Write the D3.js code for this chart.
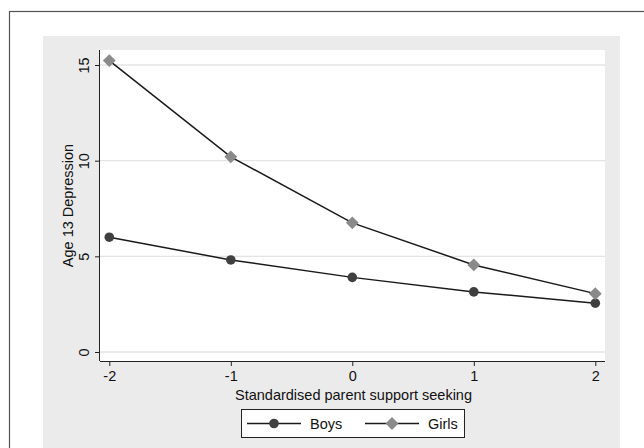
<!DOCTYPE html>
<html><head><meta charset="utf-8">
<script src="https://cdn.jsdelivr.net/npm/d3@7"></script>
<style>body{margin:0;background:#fff}svg{display:block}text{font-family:"Liberation Sans",Arial,sans-serif;fill:#111}</style>
</head><body><svg id="c" width="644" height="448"></svg>
<script>
const xValues = [-2, -1, 0, 1, 2];
const boys = [6.0, 4.81, 3.9, 3.14, 2.55];
const girls = [15.23, 10.2, 6.75, 4.55, 3.05];
const xTicks = [-2, -1, 0, 1, 2];
const yTicks = [0, 5, 10, 15];
const seriesNames = ["Boys", "Girls"];

const FS = 14.5;
const svg = d3.select("#c");
svg.append("rect").attr("x",0).attr("y",0).attr("width",644).attr("height",448).attr("fill","#fff");
svg.append("rect").attr("x",9.5).attr("y",11.5).attr("width",700).attr("height",500).attr("fill","#fff").attr("stroke","#555").attr("stroke-width",1.2);
svg.append("rect").attr("x",43).attr("y",36).attr("width",577).attr("height",420).attr("fill","#ebebeb");

const L=100, R=605, T=50, B=361;
const x = d3.scaleLinear().domain([-2,2]).range([109.3,595.3]);
const y = d3.scaleLinear().domain([0,15]).range([352,65]);

svg.append("rect").attr("x",L).attr("y",T).attr("width",R-L).attr("height",B-T).attr("fill","#fff");
svg.append("g").selectAll("line").data(yTicks).join("line")
  .attr("x1",L).attr("x2",R).attr("y1",d=>y(d)).attr("y2",d=>y(d))
  .attr("stroke","#e4e4e4").attr("stroke-width",1.3);

const xAxis = d3.axisBottom(x).tickValues(xTicks).tickSize(5).tickPadding(5).tickFormat(d3.format("d"));
const gx = svg.append("g").attr("transform",`translate(0,${B})`).call(xAxis);
gx.select(".domain").attr("d",`M${L},0.5H${R}`).attr("stroke","#222");
gx.selectAll(".tick line").attr("stroke","#222");
gx.selectAll("text").attr("font-size",FS).attr("fill","#111").attr("font-family","Liberation Sans, Arial, sans-serif").text(d=>d<0?"-"+Math.abs(d):d);

const yAxis = d3.axisLeft(y).tickValues(yTicks).tickSize(5).tickPadding(3);
const gy = svg.append("g").attr("transform",`translate(${L},0)`).call(yAxis);
gy.select(".domain").attr("d",`M-0.5,${T}V${B}`).attr("stroke","#222");
gy.selectAll(".tick line").attr("stroke","#222");
gy.selectAll("text").attr("font-size",FS).attr("fill","#111").attr("font-family","Liberation Sans, Arial, sans-serif")
  .attr("x",0).attr("dy",0).attr("text-anchor","middle")
  .attr("transform","translate(-15,0) rotate(-90)").attr("dominant-baseline","middle");

svg.append("text").attr("x",(L+R)/2+1).attr("y",400).attr("text-anchor","middle").attr("font-size",FS)
  .text("Standardised parent support seeking");
svg.append("text").attr("transform",`translate(73,${(T+B)/2}) rotate(-90)`).attr("text-anchor","middle").attr("font-size",FS)
  .text("Age 13 Depression");

const line = d3.line().x((d,i)=>x(xValues[i])).y(d=>y(d));
const colors = {Boys:"#3f3f3f", Girls:"#8a8a8a"};
svg.append("path").datum(boys).attr("d",line).attr("fill","none").attr("stroke","#1a1a1a").attr("stroke-width",1.5);
svg.append("path").datum(girls).attr("d",line).attr("fill","none").attr("stroke","#1a1a1a").attr("stroke-width",1.5);
svg.append("g").selectAll("circle").data(boys).join("circle")
  .attr("cx",(d,i)=>x(xValues[i])).attr("cy",d=>y(d)).attr("r",4.8).attr("fill",colors.Boys);
const diamond = d3.symbol().type(d3.symbolDiamond2).size(105);
svg.append("g").selectAll("path").data(girls).join("path")
  .attr("transform",(d,i)=>`translate(${x(xValues[i])},${y(d)})`).attr("d",diamond).attr("fill",colors.Girls);

const lg = svg.append("g");
lg.append("rect").attr("x",241.5).attr("y",409.5).attr("width",223).attr("height",28).attr("fill","#fff").attr("stroke","#222").attr("stroke-width",1);
const items = [{n:"Boys",x0:247},{n:"Girls",x0:365}];
items.forEach(it=>{
  const cy=423.5;
  lg.append("line").attr("x1",it.x0).attr("x2",it.x0+54).attr("y1",cy).attr("y2",cy).attr("stroke","#1a1a1a").attr("stroke-width",1.5);
  if(it.n==="Boys") lg.append("circle").attr("cx",it.x0+27).attr("cy",cy).attr("r",4.8).attr("fill",colors.Boys);
  else lg.append("path").attr("transform",`translate(${it.x0+27},${cy})`).attr("d",diamond).attr("fill",colors.Girls);
  lg.append("text").attr("x",it.x0+63).attr("y",cy).attr("dominant-baseline","central").attr("font-size",FS).text(it.n);
});
</script></body></html>
